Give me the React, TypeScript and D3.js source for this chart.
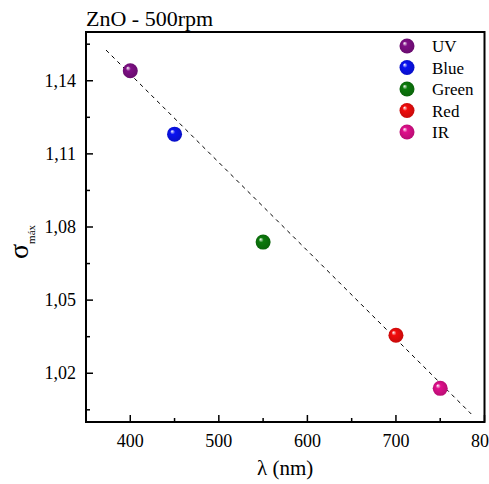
import React, { useEffect, useRef } from 'react';
import * as d3 from 'd3';

// Wavelength of each LED (nm) and the measured maximum sigma
const labels = ['UV', 'Blue', 'Green', 'Red', 'IR'];
const wavelengths = [400, 450, 550, 700, 750];
const sigmaMax = [1.1441, 1.1181, 1.0738, 1.0356, 1.0138];
const colors = ['#7f0f86', '#0a12f2', '#0c7a0c', '#f20c0c', '#e0108c'];

// linear fit, drawn dashed
const fitX = [372.6, 785];
const fitY = [1.1526, 1.0033];

const xTicks = [400, 500, 600, 700, 800];
const xMinor = [350, 450, 550, 650, 750];
const yTicks = [1.02, 1.05, 1.08, 1.11, 1.14];
const yMinor = [1.005, 1.035, 1.065, 1.095, 1.125, 1.155];

const W = 489;
const H = 484;

export default function App() {
  const svgRef = useRef<SVGSVGElement>(null);

  useEffect(() => {
    const svg = d3.select(svgRef.current);
    svg.selectAll('*').remove();

    const margin = { top: 32, right: 4.5, bottom: 62, left: 86 };
    const x = d3.scaleLinear().domain([350, 800]).range([margin.left, W - margin.right]);
    const y = d3.scaleLinear().domain([1.0, 1.16]).range([H - margin.bottom, margin.top]);
    const font = "'Liberation Serif', 'DejaVu Serif', serif";

    svg.attr('font-family', font);

    const defs = svg.append('defs');
    colors.forEach((c, i) => {
      const g = defs
        .append('radialGradient')
        .attr('id', 'ball' + i)
        .attr('cx', '0.5')
        .attr('cy', '0.5')
        .attr('r', '0.55')
        .attr('fx', '0.32')
        .attr('fy', '0.3');
      g.append('stop').attr('offset', '0').attr('stop-color', '#ffffff');
      g.append('stop').attr('offset', '0.3').attr('stop-color', c);
      g.append('stop').attr('offset', '1').attr('stop-color', d3.color(c)!.darker(0.6).toString());
    });

    // dashed fit line
    svg
      .append('line')
      .attr('x1', x(fitX[0]))
      .attr('y1', y(fitY[0]))
      .attr('x2', x(fitX[1]))
      .attr('y2', y(fitY[1]))
      .attr('stroke', '#000')
      .attr('stroke-width', 1)
      .attr('stroke-dasharray', '4,4');

    // points
    svg
      .selectAll('.pt')
      .data(wavelengths)
      .enter()
      .append('circle')
      .attr('cx', (d) => x(d))
      .attr('cy', (d, i) => y(sigmaMax[i]))
      .attr('r', 7.5)
      .attr('fill', (d, i) => `url(#ball${i})`);

    // axes with inward ticks
    const [x0, x1] = x.range();
    const [y0, y1] = y.range();
    const axes = svg.append('g').attr('stroke', '#000').attr('stroke-width', 1.5);
    xTicks.forEach((t) =>
      axes.append('line').attr('x1', x(t)).attr('x2', x(t)).attr('y1', y0).attr('y2', y0 - 7)
    );
    xMinor.forEach((t) =>
      axes.append('line').attr('x1', x(t)).attr('x2', x(t)).attr('y1', y0).attr('y2', y0 - 4)
    );
    yTicks.forEach((t) =>
      axes.append('line').attr('x1', x0).attr('x2', x0 + 7).attr('y1', y(t)).attr('y2', y(t))
    );
    yMinor.forEach((t) =>
      axes.append('line').attr('x1', x0).attr('x2', x0 + 4).attr('y1', y(t)).attr('y2', y(t))
    );
    svg
      .append('rect')
      .attr('x', x0)
      .attr('y', y1)
      .attr('width', x1 - x0)
      .attr('height', y0 - y1)
      .attr('fill', 'none')
      .attr('stroke', '#000')
      .attr('stroke-width', 2);

    // tick labels
    svg
      .selectAll('.xl')
      .data(xTicks)
      .enter()
      .append('text')
      .attr('x', (d) => x(d))
      .attr('y', y0 + 25)
      .attr('text-anchor', 'middle')
      .attr('font-size', 18)
      .text((d) => d);
    svg
      .selectAll('.yl')
      .data(yTicks)
      .enter()
      .append('text')
      .attr('x', x0 - 10)
      .attr('y', (d) => y(d) + 6)
      .attr('text-anchor', 'end')
      .attr('font-size', 18)
      .text((d) => d3.format('.2f')(d).replace('.', ','));

    // titles
    svg
      .append('text')
      .attr('x', x0)
      .attr('y', 26)
      .attr('font-size', 22)
      .text('ZnO - 500rpm');
    svg
      .append('text')
      .attr('x', (x0 + x1) / 2)
      .attr('y', 475)
      .attr('text-anchor', 'middle')
      .attr('font-size', 21)
      .text('λ (nm)');
    const yl = svg
      .append('text')
      .attr('transform', `translate(28,${(y0 + y1) / 2 + 15}) rotate(-90)`)
      .attr('text-anchor', 'middle');
    yl.append('tspan').attr('font-size', 28).text('σ');
    yl.append('tspan').attr('dy', 7).attr('font-size', 11).text('máx');

    // legend
    const lg = svg.append('g').attr('transform', 'translate(407,46)');
    labels.forEach((l, i) => {
      const row = lg.append('g').attr('transform', `translate(0,${i * 21.5})`);
      row.append('circle').attr('r', 7.5).attr('fill', `url(#ball${i})`);
      row
        .append('text')
        .attr('x', 25)
        .attr('y', 6)
        .attr('font-size', 17)
        .text(l);
    });
  }, []);

  return (
    <svg
      ref={svgRef}
      width={W}
      height={H}
      style={{ position: 'absolute', left: 0, top: 0, background: '#fff' }}
    />
  );
}
